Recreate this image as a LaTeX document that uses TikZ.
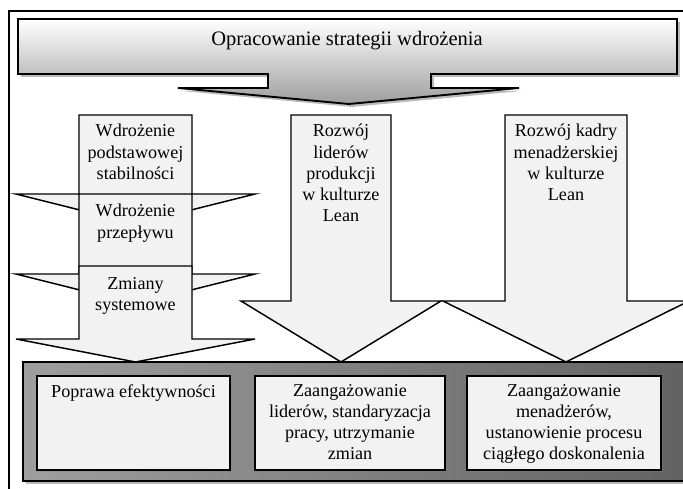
\documentclass[tikz,border=0pt]{standalone}
\usepackage{fontspec}
\setmainfont{Liberation Serif}
\usetikzlibrary{shadows}
\definecolor{boxfill}{HTML}{F2F2F2}
\tikzset{
  x=0.75pt, y=-0.75pt,
  lbl/.style={font=\fontsize{13.6}{15.9}\selectfont, align=center, inner sep=0pt, anchor=north},
  arrowshape/.style={draw=black, line width=1.1pt, fill=boxfill, line join=miter},
  bigshadow/.style={drop shadow={shadow xshift=2.2pt, shadow yshift=-2.2pt, opacity=0.45, fill=black!60}},
  smallshadow/.style={drop shadow={shadow xshift=1.5pt, shadow yshift=-1.5pt, opacity=0.35, fill=black!50}},
  inbox/.style={draw=black, line width=1.1pt, fill=boxfill, smallshadow}
}
\begin{document}
\begin{tikzpicture}
\useasboundingbox (0,0) rectangle (683,489);
\clip (0,0) rectangle (683,489);
% outer frame (cropped)
\draw[line width=1.5pt] (9,500) -- (9,11) -- (700,11);

% banner arrow
\path[bigshadow, top color=white, bottom color=black!38, draw=black, line width=1.4pt]
  (18,19) -- (677,19) -- (677,74) -- (431,74) -- (431,88) -- (519,88) -- (349,104)
  -- (178,88) -- (268,88) -- (268,74) -- (18,74) -- cycle;
\node[lbl, font=\fontsize{15.4}{18}\selectfont] (title) at (347,31) {Opracowanie strategii wdrożenia};

% left column arrows
\path[arrowshape] (79,115) -- (192,115) -- (192,194) -- (255,194) -- (135.5,224)
  -- (16,194) -- (79,194) -- cycle;
\path[arrowshape] (79,194) -- (192,194) -- (192,274) -- (255,274) -- (135.5,304)
  -- (16,274) -- (79,274) -- cycle;
\path[arrowshape] (79,266) -- (192,266) -- (192,339) -- (255,339) -- (135.5,362)
  -- (16,339) -- (79,339) -- cycle;
\node[lbl] (l1) at (135.5,124) {Wdrożenie\\podstawowej\\stabilności};
\node[lbl] (l2) at (135.5,204) {Wdrożenie\\przepływu};
\node[lbl] (l3) at (135.5,277) {Zmiany\\systemowe};

% middle arrow
\path[arrowshape] (291,115) -- (391,115) -- (391,301) -- (441,301) -- (341,362)
  -- (241,301) -- (291,301) -- cycle;
\node[lbl] (m1) at (341,124) {Rozwój\\liderów\\produkcji\\w kulturze\\Lean};

% right arrow
\path[arrowshape] (505,115) -- (627,115) -- (627,301) -- (689,301) -- (566,362)
  -- (443,301) -- (505,301) -- cycle;
\node[lbl] (r1) at (566,124) {Rozwój kadry\\menadżerskiej\\w kulturze\\Lean};

% bottom panel
\path[bigshadow, left color=black!38, middle color=black!22, right color=black!62, draw=black, line width=1.4pt]
  (23,362) rectangle (700,481);
\path[inbox] (37,376) rectangle (230,470);
\path[inbox] (255,376) rectangle (445,470);
\path[inbox] (467,376) rectangle (661,470);
\node[lbl] (b1) at (133.5,384) {Poprawa efektywności};
\node[lbl] (b2) at (350,384) {Zaangażowanie\\liderów, standaryzacja\\pracy, utrzymanie\\zmian};
\node[lbl] (b3) at (564,384) {Zaangażowanie\\menadżerów,\\ustanowienie procesu\\ciągłego doskonalenia};
\end{tikzpicture}
\end{document}
